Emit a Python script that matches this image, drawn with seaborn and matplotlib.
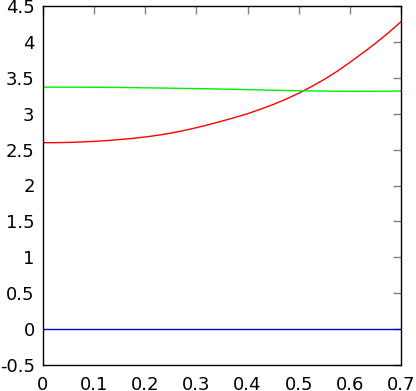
import numpy as np
import pandas as pd
import matplotlib
matplotlib.use("Agg")
import matplotlib.pyplot as plt
import seaborn as sns

x_vals = [0.0, 0.025, 0.05, 0.075, 0.1, 0.125, 0.15, 0.175, 0.2, 0.225, 0.25, 0.275,
          0.3, 0.325, 0.35, 0.375, 0.4, 0.425, 0.45, 0.475, 0.5, 0.525, 0.55, 0.575,
          0.6, 0.625, 0.65, 0.675, 0.7]
red_vals = [2.596, 2.597, 2.600, 2.606, 2.615, 2.626, 2.640, 2.656, 2.676, 2.700, 2.730, 2.765,
            2.805, 2.850, 2.897, 2.947, 3.000, 3.062, 3.128, 3.203, 3.285, 3.378, 3.478, 3.590,
            3.715, 3.845, 3.980, 4.125, 4.280]
green_vals = [3.370, 3.370, 3.369, 3.369, 3.368, 3.366, 3.365, 3.363, 3.360, 3.358, 3.355, 3.352,
              3.350, 3.347, 3.343, 3.339, 3.335, 3.331, 3.327, 3.323, 3.320, 3.317, 3.315, 3.313,
              3.312, 3.312, 3.313, 3.314, 3.316]
blue_vals = [0.0] * len(x_vals)

x_ticks = [0, 0.1, 0.2, 0.3, 0.4, 0.5, 0.6, 0.7]
x_labels = ["0", "0.1", "0.2", "0.3", "0.4", "0.5", "0.6", "0.7"]
y_ticks = [-0.5, 0, 0.5, 1, 1.5, 2, 2.5, 3, 3.5, 4, 4.5]
y_labels = ["-0.5", "0", "0.5", "1", "1.5", "2", "2.5", "3", "3.5", "4", "4.5"]

sns.set_style("white")
plt.rcParams['font.family'] = ['DejaVu Sans']

fig = plt.figure(figsize=(4.16, 3.91), dpi=100)
ax = fig.add_axes([43/416, 26/391, 358/416, 359/391])

df = pd.DataFrame({"x": x_vals, "red": red_vals, "green": green_vals, "blue": blue_vals})
sns.lineplot(data=df, x="x", y="red", ax=ax, color="#ff0000", linewidth=1.0)
sns.lineplot(data=df, x="x", y="green", ax=ax, color="#00ee00", linewidth=1.0)
sns.lineplot(data=df, x="x", y="blue", ax=ax, color="#0000cc", linewidth=1.0)

ax.set_xlim(0, 0.7)
ax.set_ylim(-0.5, 4.5)
ax.set_xticks(x_ticks)
ax.set_xticklabels(x_labels)
ax.set_yticks(y_ticks)
ax.set_yticklabels(y_labels)
ax.set_xlabel("")
ax.set_ylabel("")
ax.tick_params(direction="in", length=6, width=1, color="#808080",
               top=True, right=True, labelsize=13, labelcolor="black")
ax.tick_params(axis="x", pad=8)
ax.tick_params(axis="y", pad=6)
for s in ax.spines.values():
    s.set_color("black")
    s.set_linewidth(1.0)

fig.savefig("out.png", dpi=100)
